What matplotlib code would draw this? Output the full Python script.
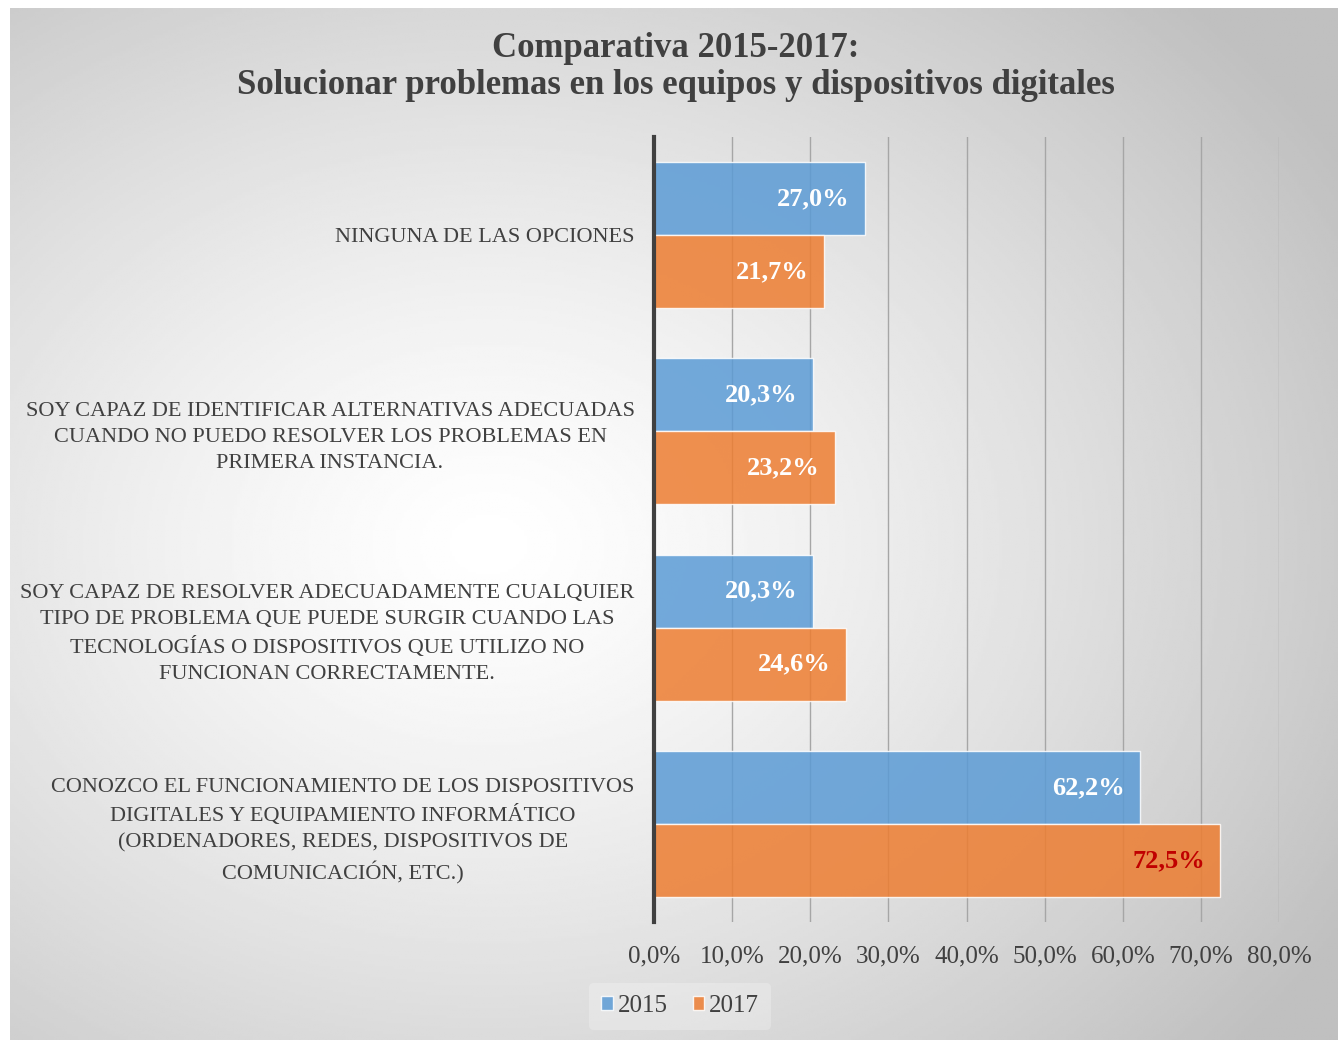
import numpy as np
import matplotlib.pyplot as plt

categories = [
    "NINGUNA DE LAS OPCIONES",
    "SOY CAPAZ DE IDENTIFICAR ALTERNATIVAS ADECUADAS\nCUANDO NO PUEDO RESOLVER LOS PROBLEMAS EN\nPRIMERA INSTANCIA.",
    "SOY CAPAZ DE RESOLVER ADECUADAMENTE CUALQUIER\nTIPO DE PROBLEMA QUE PUEDE SURGIR CUANDO LAS\nTECNOLOGÍAS O DISPOSITIVOS QUE UTILIZO NO\nFUNCIONAN CORRECTAMENTE.",
    "CONOZCO EL FUNCIONAMIENTO DE LOS DISPOSITIVOS\nDIGITALES Y EQUIPAMIENTO INFORMÁTICO\n(ORDENADORES, REDES, DISPOSITIVOS DE\nCOMUNICACIÓN, ETC.)",
]
values_2015 = [27.0, 20.3, 20.3, 62.2]
values_2017 = [21.7, 23.2, 24.6, 72.5]
series_names = ["2015", "2017"]
xticks = [0, 10, 20, 30, 40, 50, 60, 70, 80]

SERIF = ["Liberation Serif", "DejaVu Serif"]
BLUE = "#5b9bd5"
ORANGE = "#ed7d31"

fig = plt.figure(figsize=(13.38, 10.4), dpi=100)
fig.patch.set_facecolor("white")

# radial gradient background of the chart area
bg = fig.add_axes([10 / 1338, 0, 1 - 10 / 1338, 1 - 8 / 1040])
yy, xx = np.mgrid[0:1:400j, 0:1:500j]
r = np.sqrt(((xx - 0.36) / 0.75) ** 2 + ((yy - 0.52) / 0.75) ** 2)
shade = 1.0 - 0.25 * np.clip(r, 0, 1) ** 1.3
bg.imshow(shade, cmap="gray", vmin=0, vmax=1, aspect="auto", extent=[0, 1, 0, 1])
bg.axis("off")

ax = fig.add_axes([654 / 1338, 1 - 922 / 1040, (1279 - 654) / 1338, (922 - 137) / 1040])
ax.patch.set_alpha(0)

y = np.arange(len(categories))
h = 0.372
b1 = ax.barh(y - h / 2, values_2015, height=h, color=BLUE, alpha=0.85,
             edgecolor="white", linewidth=1, label=series_names[0], zorder=3)
b2 = ax.barh(y + h / 2, values_2017, height=h, color=ORANGE, alpha=0.85,
             edgecolor="white", linewidth=1, label=series_names[1], zorder=3)

for bars, vals in ((b1, values_2015), (b2, values_2017)):
    for bar, v in zip(bars, vals):
        col = "#c00000" if v == max(values_2017) else "white"
        ax.annotate(f"{v:.1f}%".replace(".", ","),
                    (v, bar.get_y() + bar.get_height() / 2),
                    xytext=(-11, 0), textcoords="offset points",
                    ha="right", va="center", fontsize=19, fontweight="bold",
                    color=col, family=SERIF, zorder=5)

ax.set_xlim(0, 80)
ax.set_ylim(3.5, -0.5)
ax.set_xticks(xticks)
ax.set_xticklabels([f"{t:.1f}%".replace(".", ",") for t in xticks],
                   family=SERIF, fontsize=18, color="#404040")
ax.set_yticks(y)
ax.set_yticklabels(categories, family=SERIF, fontsize=16, color="#404040",
                   multialignment="center", linespacing=1.5)
ax.tick_params(axis="x", length=0, pad=17)
ax.tick_params(axis="y", length=0, pad=14)
ax.grid(axis="x", color="#a6a6a6", linewidth=1, zorder=1)
for s in ("top", "right", "bottom"):
    ax.spines[s].set_visible(False)
ax.spines["left"].set_color("#404040")
ax.spines["left"].set_linewidth(3)
ax.spines["left"].set_zorder(4)

fig.text(0.505, 1 - 48 / 1040, "Comparativa 2015-2017:", ha="center", va="center",
         fontsize=25, fontweight="bold", color="#404040", family=SERIF)
fig.text(0.505, 1 - 85 / 1040, "Solucionar problemas en los equipos y dispositivos digitales",
         ha="center", va="center", fontsize=25, fontweight="bold", color="#404040", family=SERIF)

leg = fig.legend(handles=[b1, b2], labels=series_names, loc="center",
                 bbox_to_anchor=(680 / 1338, 1 - 1006 / 1040), ncol=2,
                 frameon=True, prop={"family": SERIF, "size": 18},
                 handlelength=0.45, handleheight=0.45, handletextpad=0.2,
                 columnspacing=1.0, borderpad=0.5)
leg.get_frame().set_facecolor("white")
leg.get_frame().set_alpha(0.25)
leg.get_frame().set_edgecolor("none")
for t in leg.get_texts():
    t.set_color("#404040")

fig.savefig("out.png", dpi=100)
